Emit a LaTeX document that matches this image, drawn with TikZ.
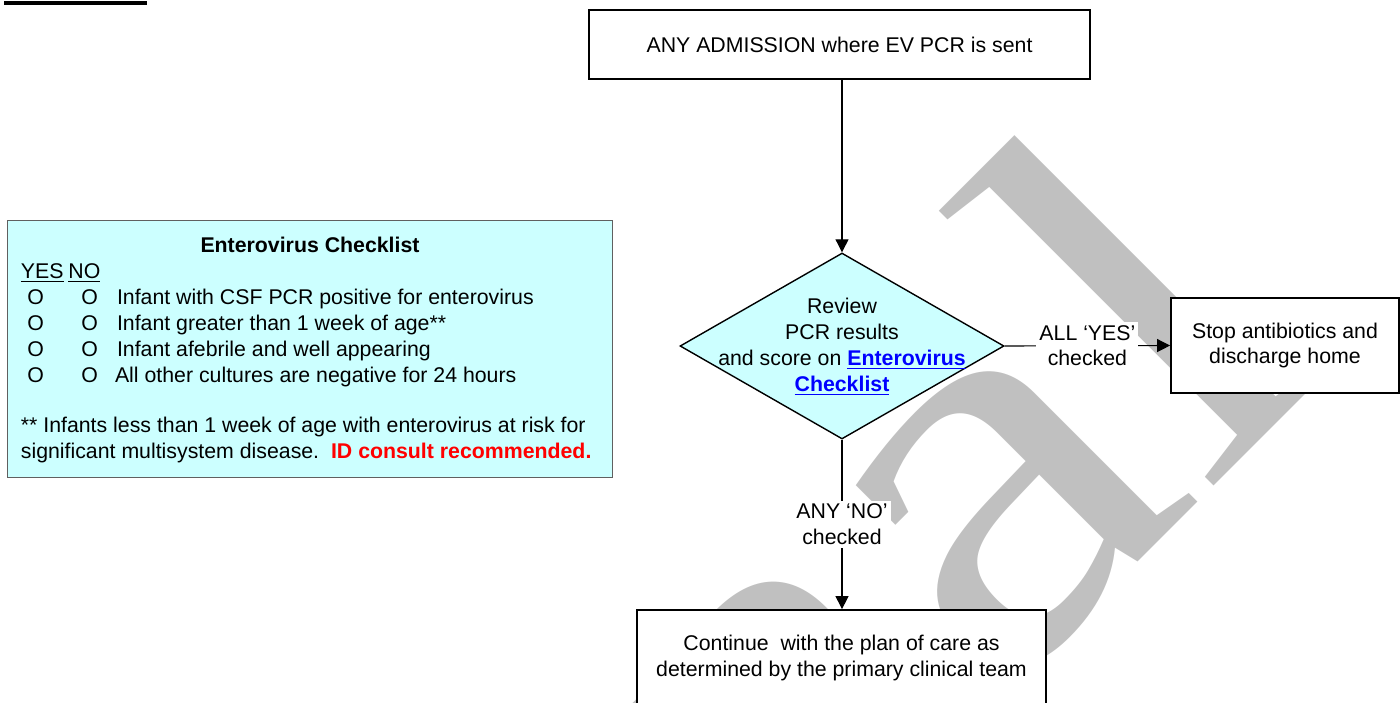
\documentclass[tikz,border=0pt]{standalone}
\usepackage{fontspec}
\setmainfont{Liberation Sans}
\newfontfamily\wmfont{Liberation Serif}
\usetikzlibrary{shapes.geometric,arrows.meta}
\definecolor{evcyan}{HTML}{CCFFFF}
\definecolor{wmgray}{HTML}{C0C0C0}
\definecolor{linkblue}{HTML}{0000FF}
\definecolor{alertred}{HTML}{FF0000}
\definecolor{panelgray}{HTML}{606060}
\newcommand{\evlink}[1]{\textcolor{linkblue}{\underline{\textbf{#1}}}}
\begin{document}
\begin{tikzpicture}[x=0.5pt,y=-0.5pt,
  font=\fontsize{10.65}{12.9}\selectfont,
  flowbox/.style={draw=black, line width=0.9pt, fill=white, align=center, inner sep=0pt},
  conn/.style={draw=black, line width=0.55pt, -{Triangle[length=6.5pt,width=6.5pt]}},
  edgelabel/.style={fill=white, align=center, inner sep=1.5pt},
  cltext/.style={anchor=base west, inner sep=0pt},
]
\useasboundingbox (0,0) rectangle (1400,702);
\clip (0,0) rectangle (1400,702);
% watermark
\node[rotate=45, anchor=base west, inner sep=0pt, text=wmgray,
      font=\wmfont\fontsize{280}{280}\selectfont] (wm) at (359,1341) {\scalebox{1.2}[1]{Final}};
% heading underline (cut off at top)
\fill[black] (4,1) rectangle (147,5);
% flowchart
\node[flowbox, minimum width=250.5pt, minimum height=34.5pt] (admit) at (839.5,44.5) {ANY ADMISSION where EV PCR is sent};
\node[diamond, draw=black, line width=0.7pt, fill=evcyan, minimum width=162pt, minimum height=93pt, inner sep=0pt] (review) at (842,346) {};
\node[align=center, inner sep=0pt] (reviewtext) at (842,347) {Review\\PCR results\\and score on \evlink{Enterovirus}\\\evlink{Checklist}};
\node[flowbox, minimum width=114pt, minimum height=47.5pt] (stop) at (1285,345.5) {Stop antibiotics and\\discharge home};
\node[flowbox, minimum width=204.5pt, minimum height=48pt] (cont) at (841.5,658) {Continue\ \ with the plan of care as\\determined by the primary clinical team};
\draw[conn] (admit.south -| review.north) -- (review.north);
\draw[conn] (review.east) -- node[edgelabel] (yeslabel) {ALL ‘YES’\\checked} (stop.west);
\draw[conn] (review.south) -- node[edgelabel] (nolabel) {ANY ‘NO’\\checked} (cont.north -| review.south);
% checklist panel
\node[draw=panelgray, line width=0.6pt, fill=evcyan, minimum width=302.5pt, minimum height=128.5pt, inner sep=0pt, anchor=north west] (panel) at (7,220) {};
\node[anchor=base, inner sep=0pt, font=\fontsize{10.65}{12.9}\selectfont\bfseries] (cltitle) at (310,252) {Enterovirus Checklist};
\node[cltext] (yes) at (20.5,278) {\underline{YES}};
\node[cltext] (no) at (68,278) {\underline{NO}};
\node[cltext] (y1) at (27,304) {O};
\node[cltext] (n1) at (81,304) {O};
\node[cltext] (t1) at (116.6,304) {Infant with CSF PCR positive for enterovirus};
\node[cltext] (y2) at (27,330) {O};
\node[cltext] (n2) at (81,330) {O};
\node[cltext] (t2) at (116.6,330) {Infant greater than 1 week of age**};
\node[cltext] (y3) at (27,356) {O};
\node[cltext] (n3) at (81,356) {O};
\node[cltext] (t3) at (116.6,356) {Infant afebrile and well appearing};
\node[cltext] (y4) at (27,382) {O};
\node[cltext] (n4) at (81,382) {O};
\node[cltext] (t4) at (114.6,382) {All other cultures are negative for 24 hours};
\node[cltext] (f1) at (20.5,432) {** Infants less than 1 week of age with enterovirus at risk for};
\node[cltext] (f2) at (20.5,458) {significant multisystem disease.\ \ \textcolor{alertred}{\textbf{ID consult recommended.}}};
\end{tikzpicture}
\end{document}
